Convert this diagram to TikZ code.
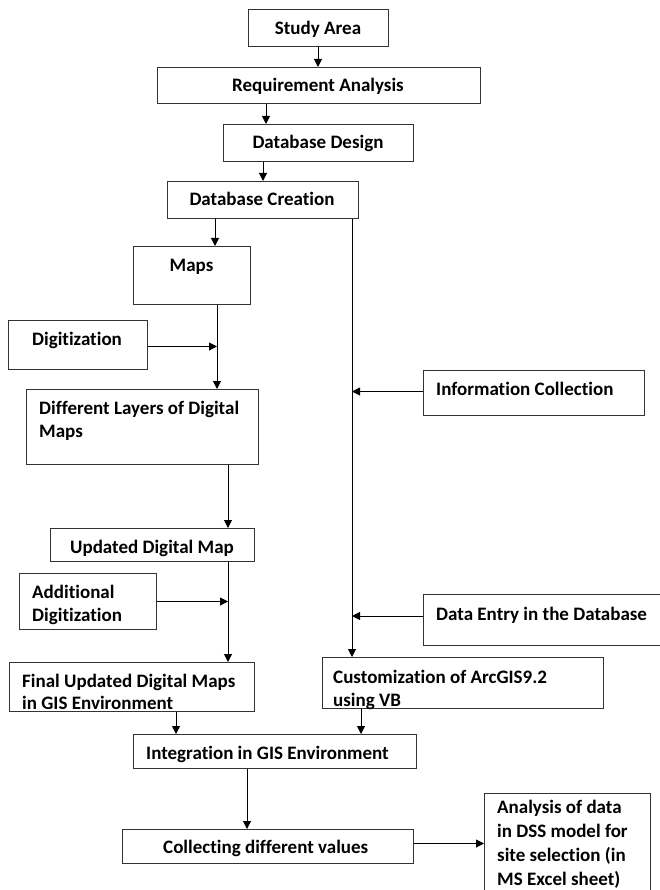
\documentclass[tikz,border=0pt]{standalone}
\usepackage{fontspec}
\setmainfont[Ligatures={NoCommon}]{Carlito}
\usetikzlibrary{arrows.meta}
\tikzset{
  box/.style={draw=black!80, line width=1pt, inner sep=0pt, anchor=north west},
  txt/.style={inner sep=0pt, font=\fontsize{19}{23}\selectfont\bfseries},
  mtxt/.style={txt, align=left, anchor=base west},
  arr/.style={draw=black, line width=1pt, -{Triangle[length=8pt,width=8pt]}},
  ln/.style={draw=black, line width=1pt},
}
\begin{document}
\begin{tikzpicture}[x=1pt,y=-1pt]
\useasboundingbox (0,0) rectangle (660,890);
% boxes
\node[box, minimum width=140pt, minimum height=37pt] (sa) at (248,9) {};
\node[box, minimum width=323pt, minimum height=36pt] (ra) at (157,67) {};
\node[box, minimum width=190pt, minimum height=37pt] (dd) at (223,124) {};
\node[box, minimum width=191pt, minimum height=37pt] (dc) at (167,181) {};
\node[box, minimum width=117pt, minimum height=58pt] (maps) at (133,246) {};
\node[box, minimum width=139pt, minimum height=49pt] (dig) at (8,320) {};
\node[box, minimum width=232pt, minimum height=75pt] (dl) at (26,389) {};
\node[box, minimum width=221pt, minimum height=45pt] (ic) at (423,370) {};
\node[box, minimum width=204pt, minimum height=33pt] (udm) at (50,528) {};
\node[box, minimum width=137pt, minimum height=56pt] (ad) at (19,573) {};
\node[box, minimum width=260pt, minimum height=51pt] (de) at (423,594) {};
\node[box, minimum width=245pt, minimum height=49pt] (fin) at (9,662) {};
\node[box, minimum width=281pt, minimum height=51pt] (cus) at (322,657) {};
\node[box, minimum width=283pt, minimum height=34pt] (int) at (133,734) {};
\node[box, minimum width=291pt, minimum height=34pt] (col) at (122,829) {};
\node[box, minimum width=166pt, minimum height=120pt] (ana) at (484,793) {};
% texts (multi-line nodes: base = last line)
\node[txt, anchor=base] (saT) at (318,34.5) {Study Area};
\node[txt, anchor=base] (raT) at (318,92) {Requirement Analysis};
\node[txt, anchor=base] (ddT) at (318,149) {Database Design};
\node[txt, anchor=base] (dcT) at (262,206) {Database Creation};
\node[txt, anchor=base] (mapsT) at (191.5,272) {Maps};
\node[txt, anchor=base] (digT) at (77,345) {Digitization};
\node[mtxt] (dlT) at (39,437) {Different Layers of Digital\\Maps};
\node[mtxt] (icT) at (436,395) {Information Collection};
\node[txt, anchor=base] (udmT) at (152,553) {Updated Digital Map};
\node[mtxt] (adT) at (32,621) {Additional\\Digitization};
\node[mtxt] (deT) at (436,620) {Data Entry in the Database};
\node[mtxt, font=\fontsize{19}{22}\selectfont\bfseries] (finT) at (22,709) {Final Updated Digital Maps\\in GIS Environment};
\node[mtxt] (cusT) at (333,706) {Customization of ArcGIS9.2\\using VB};
\node[mtxt] (intT) at (146,759) {Integration in GIS Environment};
\node[mtxt] (colT) at (163,853) {Collecting different values};
\node[mtxt, font=\fontsize{19}{23.7}\selectfont\bfseries] (anaT) at (497,885) {Analysis of data\\in DSS model for\\site selection (in\\MS Excel sheet)};
% column x positions
\coordinate (xa) at (318,0);
\coordinate (xb) at (266,0);
\coordinate (xc) at (263,0);
\coordinate (xd) at (215,0);
\coordinate (xe) at (352,0);
\coordinate (xf) at (217,0);
\coordinate (xg) at (228,0);
\coordinate (xh) at (176,0);
\coordinate (xi) at (361,0);
\coordinate (xj) at (247,0);
% connectors
\draw[arr] (sa.south -| xa) -- (ra.north -| xa);
\draw[arr] (ra.south -| xb) -- (dd.north -| xb);
\draw[arr] (dd.south -| xc) -- (dc.north -| xc);
\draw[arr] (dc.south -| xd) -- (maps.north -| xd);
\draw[arr] (dc.south -| xe) -- (cus.north -| xe);
\draw[arr] (maps.south -| xf) -- (dl.north -| xf);
\draw[arr] ([yshift=-1.5pt]dig.east) -- ([yshift=-1.5pt]dig.east -| xf);
\draw[arr] ([yshift=1.5pt]ic.west) -- ([yshift=1.5pt]ic.west -| xe);
\draw[arr] (dl.south -| xg) -- (udm.north -| xg);
\draw[arr] (udm.south -| xg) -- (fin.north -| xg);
\draw[arr] (ad.east) -- (ad.east -| xg);
\draw[arr] ([yshift=4pt]de.west) -- ([yshift=4pt]de.west -| xe);
\draw[arr] (fin.south -| xh) -- (int.north -| xh);
\draw[arr] (cus.south -| xi) -- (int.north -| xi);
\draw[arr] (int.south -| xj) -- (col.north -| xj);
\draw[arr] ([yshift=3pt]col.east) -- ([yshift=3pt]col.east -| ana.west);
\end{tikzpicture}
\end{document}
